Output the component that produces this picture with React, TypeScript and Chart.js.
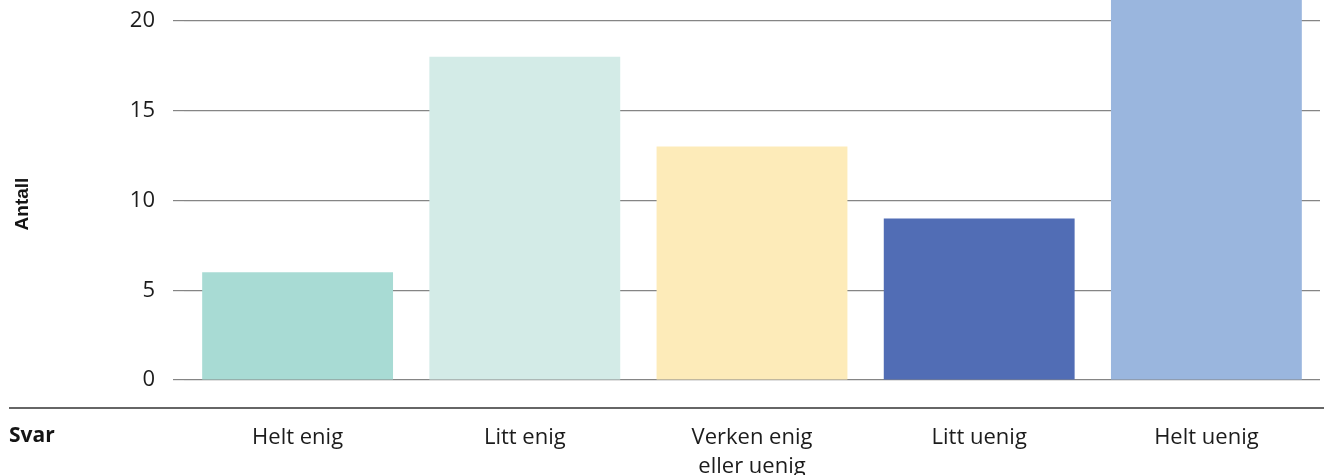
import React, { useEffect, useRef } from "react";
import { Chart, registerables } from "chart.js";

Chart.register(...registerables);

const categories: (string | string[])[] = [
  "Helt enig",
  "Litt enig",
  ["Verken enig", "eller uenig"],
  "Litt uenig",
  "Helt uenig",
];
const counts: number[] = [6, 18, 13, 9, 24];
const barColors: string[] = ["#a8dbd4", "#d3ebe7", "#fdebb9", "#516db5", "#9ab6de"];
const yTicks: number[] = [0, 5, 10, 15, 20, 25];
const yTitle = "Antall";
const xTitle = "Svar";

// The canvas is taller than the visible frame; its upper part is cut off.
const FRAME_W = 1324;
const FRAME_H = 475;
const HIDDEN_TOP = 100;

const sidePlugin = {
  id: "sideLabels",
  afterDraw(chart: Chart) {
    const ctx = chart.ctx;
    const area = chart.chartArea;
    ctx.save();
    // separator under the plot
    ctx.strokeStyle = "#333";
    ctx.lineWidth = 1.5;
    ctx.beginPath();
    ctx.moveTo(9, area.bottom + 28);
    ctx.lineTo(FRAME_W, area.bottom + 28);
    ctx.stroke();
    // category axis name
    ctx.fillStyle = "#151515";
    ctx.font = "bold 21px 'Open Sans'";
    ctx.textAlign = "left";
    ctx.textBaseline = "middle";
    ctx.fillText(xTitle, 9, area.bottom + 56);
    // value axis name
    ctx.translate(23, HIDDEN_TOP + 204);
    ctx.rotate(-Math.PI / 2);
    ctx.textAlign = "center";
    ctx.font = "bold 19px 'Liberation Sans'";
    ctx.fillText(yTitle, 0, 0);
    ctx.restore();
  },
};

export default function App() {
  const ref = useRef<HTMLCanvasElement | null>(null);

  useEffect(() => {
    if (!ref.current) return;
    const chart = new Chart(ref.current, {
      type: "bar",
      data: {
        labels: categories,
        datasets: [
          {
            data: counts,
            backgroundColor: barColors,
            borderWidth: 0,
            barPercentage: 0.84,
            categoryPercentage: 1,
          },
        ],
      },
      options: {
        animation: false,
        responsive: false,
        devicePixelRatio: 1,
        layout: { padding: { top: 31, right: 4, left: 0, bottom: 0 } },
        plugins: {
          legend: { display: false },
          tooltip: { enabled: false },
        },
        scales: {
          x: {
            grid: { display: false, drawTicks: false },
            border: { display: false },
            ticks: {
              color: "#1c1c1c",
              padding: 43,
              font: { family: "'Open Sans'", size: 22, lineHeight: 1.33 },
              maxRotation: 0,
              autoSkip: false,
            },
            afterFit(scale: any) {
              scale.height = 95;
            },
          },
          y: {
            min: 0,
            max: 25,
            afterBuildTicks(scale: any) {
              scale.ticks = yTicks.map((v) => ({ value: v }));
            },
            grid: { color: "#858585", lineWidth: 1.2, tickLength: 11 },
            border: { display: false },
            ticks: {
              color: "#1c1c1c",
              padding: 18,
              font: { family: "'Open Sans'", size: 22 },
            },
            afterFit(scale: any) {
              scale.width = 184;
            },
          },
        },
      },
      plugins: [sidePlugin],
    });
    return () => chart.destroy();
  }, []);

  return (
    <div
      style={{
        position: "absolute",
        left: 0,
        top: 0,
        width: FRAME_W,
        height: FRAME_H,
        overflow: "hidden",
        background: "#fff",
      }}
    >
      <canvas
        ref={ref}
        width={FRAME_W}
        height={FRAME_H + HIDDEN_TOP}
        style={{ position: "absolute", left: 0, top: -HIDDEN_TOP }}
      />
    </div>
  );
}
